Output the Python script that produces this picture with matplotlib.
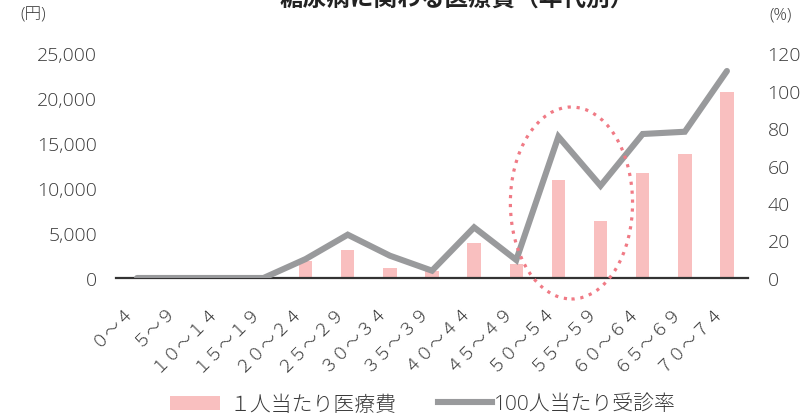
import matplotlib
matplotlib.use("Agg")
import matplotlib.pyplot as plt
import matplotlib.transforms as mtransforms
from matplotlib.patches import Ellipse, Patch
from matplotlib.lines import Line2D
from matplotlib.ticker import FuncFormatter

plt.rcParams['font.family'] = ['Open Sans', 'Noto Sans CJK JP', 'DejaVu Sans']
plt.rcParams['font.weight'] = 'light'

categories = ["０～４", "５～９", "１０～１４", "１５～１９", "２０～２４", "２５～２９", "３０～３４",
              "３５～３９", "４０～４４", "４５～４９", "５０～５４", "５５～５９", "６０～６４",
              "６５～６９", "７０～７４"]
cost_per_person = [0, 0, 0, 0, 1900, 3100, 1080, 810, 3850, 1550, 10900, 6330, 11700, 13750, 20700]
visit_rate = [0, 0, 0, 0, 10.1, 23.1, 11.9, 3.9, 27.0, 9.6, 75.4, 49.2, 76.8, 78.0, 110.4]
left_ticks = [0, 5000, 10000, 15000, 20000, 25000]
right_ticks = [0, 20, 40, 60, 80, 100, 120]
title = "糖尿病に関わる医療費（年代別）"
bar_label = "１人当たり医療費"
line_label = "100人当たり受診率"

txt = "#3a3a3a"
fig = plt.figure(figsize=(8.03, 4.14), dpi=100)
ax = fig.add_axes([116/803, (414-279)/414, (748-116)/803, (279-54)/414])
ax2 = ax.twinx()

x = list(range(len(categories)))
ax.bar(x, cost_per_person, width=0.32, color="#F9BFBF", zorder=2)
ax.set_xlim(-0.5, len(categories) - 0.5)
ax.set_ylim(0, 25000)
ax.set_yticks(left_ticks)
ax.yaxis.set_major_formatter(FuncFormatter(lambda v, p: f"{int(v):,}"))
ax.set_xticks(x)
ax.set_xticklabels(categories, rotation=45, ha="right", rotation_mode="default",
                   family=['Noto Sans CJK JP', 'DejaVu Sans'], fontsize=12.5)
offset = mtransforms.ScaledTranslation(14/72, 0, fig.dpi_scale_trans)
for lab in ax.get_xticklabels():
    lab.set_transform(lab.get_transform() + offset)

ax2.plot(x, visit_rate, color="#999A9C", lw=4.4, solid_capstyle="round",
         solid_joinstyle="miter", zorder=3)
ax2.set_ylim(0, 120)
ax2.set_yticks(right_ticks)

for a in (ax, ax2):
    for s in ("top", "left", "right", "bottom"):
        a.spines[s].set_visible(False)
    a.tick_params(length=0, labelcolor=txt)
ax.tick_params(axis="y", pad=13.5, labelsize=14)
ax2.tick_params(axis="y", pad=14, labelsize=14)
ax.tick_params(axis="x", pad=16)
ax.axhline(0, color="#333333", lw=1.6, zorder=4, clip_on=False)

ell = Ellipse((10.31, 8333 * 120 / 25000), width=2.9, height=21333 * 120 / 25000,
              fill=False, edgecolor="#F07A85", lw=2.3, linestyle=(0, (1, 1.8)),
              clip_on=False, zorder=5)
ax2.add_patch(ell)

fig.text(20/803, 1 - 16/414, "(円)", fontsize=12, color=txt, va="center", ha="left")
fig.text(792/803, 1 - 16/414, "(%)", fontsize=12, color=txt, va="center", ha="right")
fig.text(457/803, 1 + 1/414, title, fontsize=17, fontweight="bold", color="#222222",
         va="center", ha="center", family=['Noto Sans CJK JP'])

h1 = Patch(facecolor="#F9BFBF", edgecolor="none")
h2 = Line2D([0], [0], color="#999A9C", lw=4.4)
fig.legend([h1], [bar_label], loc="center left", bbox_to_anchor=(170/803, 9/414),
           frameon=False, handlelength=2.4, handleheight=0.65,
           handletextpad=0.45, borderpad=0, borderaxespad=0, labelcolor=txt,
           prop={'family': ['Noto Sans CJK JP'], 'size': 15})
fig.legend([h2], [line_label], loc="center left", bbox_to_anchor=(438/803, 9/414),
           frameon=False, handlelength=2.6,
           handletextpad=0.1, borderpad=0, borderaxespad=0, labelcolor=txt,
           prop={'family': ['Open Sans', 'Noto Sans CJK JP'], 'size': 15})

fig.savefig("out.png", dpi=100)
